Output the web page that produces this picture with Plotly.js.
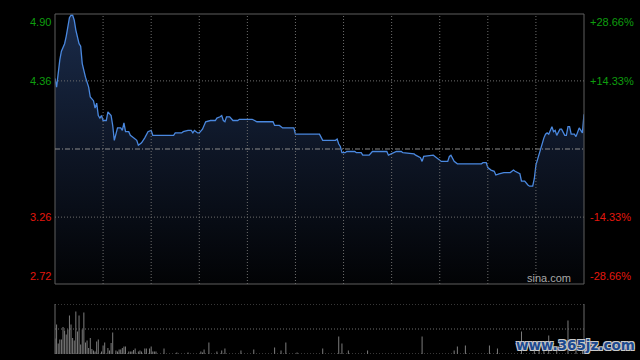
<!DOCTYPE html>
<html>
<head>
<meta charset="utf-8">
<script src="https://cdn.plot.ly/plotly-3.0.1.min.js"></script>
<style>html,body{margin:0;padding:0;background:#000;}#chart{width:640px;height:360px;}</style>
</head>
<body>
<div id="chart"></div>
<script>
// Intraday price (HK session, minute index 0..330 from open)
const priceMinute = [0,1,3,4,6,7,9,10,11,12,13,15,16,17,19,21,22,24,25,26,27,28,29,30,32,33,35,36,37,39,41,42,43,44,46,47,49,51,52,54,56,58,60,61,67,74,75,79,80,83,85,86,87,89,90,92,94,97,100,101,103,104,105,106,107,109,111,114,115,123,126,130,136,137,140,142,149,150,165,167,175,176,177,178,179,181,182,183,187,188,191,192,196,198,207,208,210,212,213,216,217,224,225,228,229,230,236,237,239,241,245,246,247,249,251,266,267,269,270,272,274,275,277,280,284,286,287,290,291,293,295,296,298,299,300,302,303,304,305,306,307,308,310,311,312,313,315,316,318,319,320,321,322,324,325,327,328,329,330];
const priceValue = [4.38,4.31,4.53,4.60,4.66,4.72,4.87,4.89,4.89,4.85,4.77,4.66,4.64,4.50,4.39,4.31,4.23,4.20,4.14,4.18,4.08,4.06,4.08,4.04,4.04,4.11,4.08,4.00,3.88,3.98,3.98,3.96,4.02,3.95,3.95,3.92,3.90,3.88,3.84,3.86,3.90,3.95,3.96,3.92,3.92,3.92,3.94,3.94,3.95,3.96,3.96,3.94,3.96,3.94,3.94,3.97,4.03,4.04,4.04,4.06,4.07,4.08,4.04,4.03,4.07,4.07,4.04,4.04,4.05,4.05,4.03,4.03,4.03,4.00,4.00,3.98,3.98,3.93,3.93,3.88,3.88,3.89,3.85,3.83,3.78,3.78,3.79,3.79,3.79,3.78,3.78,3.76,3.76,3.79,3.79,3.76,3.77,3.78,3.79,3.79,3.78,3.77,3.76,3.74,3.71,3.75,3.76,3.75,3.73,3.71,3.71,3.75,3.76,3.71,3.69,3.69,3.70,3.70,3.66,3.64,3.63,3.60,3.61,3.62,3.62,3.64,3.63,3.61,3.55,3.55,3.52,3.51,3.51,3.57,3.68,3.77,3.82,3.85,3.90,3.93,3.94,3.93,3.99,3.95,3.96,3.92,3.97,3.97,3.92,3.92,3.99,3.99,3.93,3.93,3.91,3.98,3.96,3.94,4.09];

// Volume (relative units, panel top = 100)
const volMinute = [0,1,2,3,4,5,6,7,8,9,10,11,12,13,14,15,16,17,18,19,20,21,22,23,24,25,26,27,29,30,31,33,34,35,36,38,39,40,41,42,43,44,46,47,48,49,50,52,53,54,56,57,59,60,61,62,63,68,76,83,91,92,93,96,101,104,106,116,124,137,141,144,151,167,177,179,183,195,229,249,251,256,271,276,291,299,302,305,308,313,320,325,329];
const volValue = [31,59,21,29,29,54,47,39,49,77,59,32,27,85,45,77,19,49,83,23,27,12,32,10,7,5,25,29,5,17,23,12,7,22,43,7,5,9,9,12,15,15,5,5,5,8,11,5,7,5,11,11,11,15,5,5,5,11,3,3,5,3,9,23,5,7,11,7,9,13,7,23,3,11,35,21,7,7,35,7,15,17,17,11,45,20,25,18,37,14,67,15,25];

// Axis labels
const prevClose = 3.81;
const leftLabels = ["4.90","4.36","3.26","2.72"];
const leftLevels = [4.90,4.36,3.26,2.72];
const rightLabels = ["+28.66%","+14.33%","-14.33%","-28.66%"];
const gridMinutes = [30,60,90,120,150,180,210,240,270,300];

const yMin = 2.72, yMax = 4.90;
const mainBottom = 70/340, volTop = 50/340;
const green = '#0e9e0e', red = '#e4170d';
const font = 'Liberation Sans, Arial, sans-serif';
const dotDash = '1px,2px';
const gridColor = '#6e6e6e';

const shapes = [];
// main border
shapes.push({type:'rect', xref:'paper', yref:'paper', x0:0, x1:1, y0:mainBottom, y1:1, line:{color:'#5e5e5e', width:1}, layer:'above'});
// vertical grid in main panel
gridMinutes.forEach(m => shapes.push({type:'line', xref:'x', yref:'paper', x0:m, x1:m, y0:mainBottom, y1:1, line:{color:gridColor, width:1, dash:dotDash}, layer:'above'}));
// horizontal grid
[leftLevels[1], leftLevels[2]].forEach(v => shapes.push({type:'line', xref:'paper', yref:'y', x0:0, x1:1, y0:v, y1:v, line:{color:gridColor, width:1, dash:dotDash}, layer:'above'}));
// previous close line
shapes.push({type:'line', xref:'paper', yref:'y', x0:0, x1:1, y0:prevClose, y1:prevClose, line:{color:'#8c8c8c', width:1, dash:'5px,2px,1px,2px'}, layer:'above'});
// volume panel
shapes.push({type:'line', xref:'paper', yref:'paper', x0:0, x1:0, y0:0, y1:volTop, line:{color:'#6a6a6a', width:1}});
shapes.push({type:'line', xref:'paper', yref:'paper', x0:1, x1:1, y0:0, y1:volTop, line:{color:'#6a6a6a', width:1}});
[100,50,0].forEach(v => shapes.push({type:'line', xref:'paper', yref:'y2', x0:0, x1:1, y0:v, y1:v, line:{color:gridColor, width:1, dash:dotDash}}));

const annotations = [];
const anch = ['top','middle','middle','bottom'];
leftLevels.forEach((v,i) => {
  const c = v >= prevClose ? green : red;
  const yspec = i===0 ? {yref:'paper', y:1, yshift:0} : (i===3 ? {yref:'paper', y:mainBottom, yshift:0} : {yref:'y', y:v});
  annotations.push(Object.assign({xref:'paper', x:0, xanchor:'right', xshift:-2, yanchor:anch[i], text:leftLabels[i], showarrow:false, font:{family:font, size:11, color:c}}, yspec));
  annotations.push(Object.assign({xref:'paper', x:1, xanchor:'left', xshift:4, yanchor:anch[i], text:rightLabels[i], showarrow:false, font:{family:font, size:11, color:c}}, yspec));
});
annotations.push({xref:'paper', yref:'paper', x:(573-55)/529, y:(354-278)/340, xanchor:'right', yanchor:'middle', text:'sina.com', showarrow:false, font:{family:font, size:11, color:'#a8a8a8'}});
annotations.push({xref:'paper', yref:'paper', x:(575-55)/529, y:(354-345)/340, xanchor:'center', yanchor:'middle', text:'<b>www.365jz.com</b>', showarrow:false, font:{family:'DejaVu Sans, sans-serif', size:13.5, color:'#1d4a90', shadow:'1px 1px 0 #c8c8c8, -1px -1px 0 #c8c8c8, 1px -1px 0 #c8c8c8, -1px 1px 0 #c8c8c8'}});

const data = [
  {type:'scatter', mode:'lines', x:priceMinute, y:priceValue, xaxis:'x', yaxis:'y',
   line:{color:'#4a88df', width:1.3}, fill:'tozeroy',
   fillgradient:{type:'vertical', start:yMin, stop:yMax, colorscale:[[0,'#020305'],[0.5,'#0e1626'],[1,'#1a2b4a']]},
   hoverinfo:'skip'},
  {type:'bar', x:volMinute, y:volValue, xaxis:'x2', yaxis:'y2', width:0.6,
   marker:{color:'#808080', line:{width:0}}, hoverinfo:'skip'}
];

const layout = {
  width:640, height:360,
  margin:{l:55, r:56, t:14, b:6},
  paper_bgcolor:'#000', plot_bgcolor:'#000',
  showlegend:false,
  xaxis:{domain:[0,1], range:[0,330], anchor:'y', showgrid:false, zeroline:false, showticklabels:false, ticks:'', showline:false},
  yaxis:{domain:[mainBottom,1], range:[yMin,yMax], showgrid:false, zeroline:false, showticklabels:false, ticks:''},
  xaxis2:{domain:[0,1], range:[0,330], anchor:'y2', showgrid:false, zeroline:false, showticklabels:false, ticks:''},
  yaxis2:{domain:[0,volTop], range:[0,100], showgrid:false, zeroline:false, showticklabels:false, ticks:''},
  shapes:shapes,
  annotations:annotations
};

Plotly.newPlot('chart', data, layout, {displayModeBar:false, staticPlot:true});
</script>
</body>
</html>
